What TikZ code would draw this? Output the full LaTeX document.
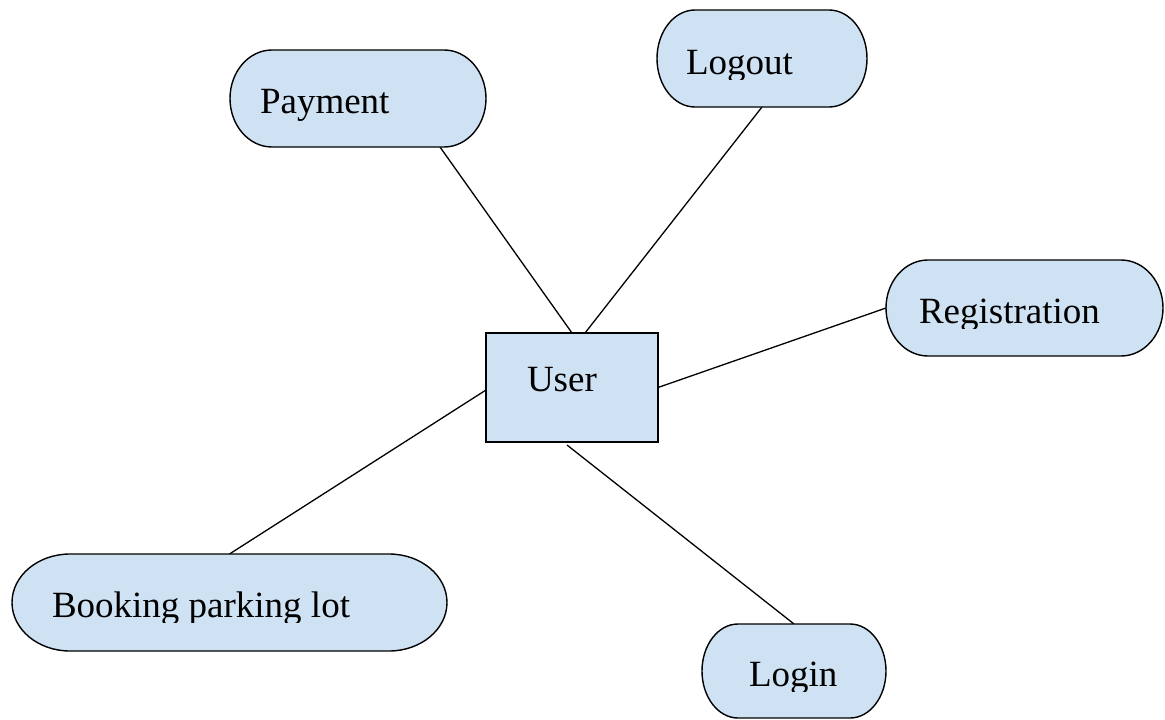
\documentclass[tikz,border=0pt]{standalone}
\usepackage{fontspec}
\setmainfont{Liberation Serif}
\usetikzlibrary{calc}
\definecolor{shapeblue}{HTML}{CFE2F3}
\tikzset{
  holder/.style={rectangle, draw=none, inner sep=0pt, outer sep=0pt},
  shapefill/.style={draw=black, line width=1.4pt, fill=shapeblue},
  link/.style={draw=black, line width=1.3pt},
  label/.style={anchor=base west, inner sep=0pt, outer sep=0pt, font=\fontsize{37}{44}\selectfont}
}
\newcommand\capsuleshape[3]{%
  \draw[shapefill] ([xshift=#2]#1.north west) -- ([xshift=-#2]#1.north east)
    arc[start angle=90,end angle=-90,x radius=#2,y radius=#3]
    -- ([xshift=#2]#1.south west)
    arc[start angle=270,end angle=90,x radius=#2,y radius=#3] -- cycle;}
\newcommand\cliptext[5]{% name, x, baseline y, clip bottom, text
  \begin{scope}
    \clip (#2-10,#3-60) rectangle (#2+420,#4);
    \node[label] (#1) at (#2,#3) {#5};
  \end{scope}}
\begin{document}
\begin{tikzpicture}[x=1pt,y=-1pt]
\useasboundingbox[fill=white] (0,0) rectangle (1165,720);
% node placeholders
\node[holder, minimum width=256pt, minimum height=97pt] (payment) at (358,98.5) {};
\node[holder, minimum width=210pt, minimum height=97pt] (logout) at (762,58.5) {};
\node[holder, minimum width=277pt, minimum height=96pt] (registration) at (1024.5,308) {};
\node[holder, minimum width=172pt, minimum height=109pt] (user) at (572,387.5) {};
\node[holder, minimum width=435pt, minimum height=97pt] (booking) at (229.5,602.5) {};
\node[holder, minimum width=184pt, minimum height=94pt] (login) at (794,671) {};
% connectors
\draw[link] ([xshift=82pt]payment.south) -- (user.north);
\draw[link] (logout.south) -- ([xshift=13pt]user.north);
\draw[link] (registration.west) -- (user.east);
\draw[link] (booking.north) -- ([yshift=-2.5pt]user.west);
\draw[link] (login.north) -- ([xshift=-5pt,yshift=-3pt]user.south);
% shapes
\capsuleshape{payment}{42pt}{48.5pt}
\capsuleshape{logout}{38pt}{48.5pt}
\capsuleshape{registration}{42pt}{48pt}
\capsuleshape{booking}{58pt}{48.5pt}
\capsuleshape{login}{36pt}{47pt}
\draw[shapefill] (user.north west) rectangle (user.south east);
% texts
\node[label] (paymenttext) at (260,113) {Payment};
\cliptext{logouttext}{686}{74}{79}{Logout}
\cliptext{registrationtext}{919}{323}{328}{Registration}
\node[label] (usertext) at (527,391) {User};
\cliptext{bookingtext}{52}{617}{622}{Booking parking lot}
\cliptext{logintext}{749}{686}{691}{Login}
\end{tikzpicture}
\end{document}
